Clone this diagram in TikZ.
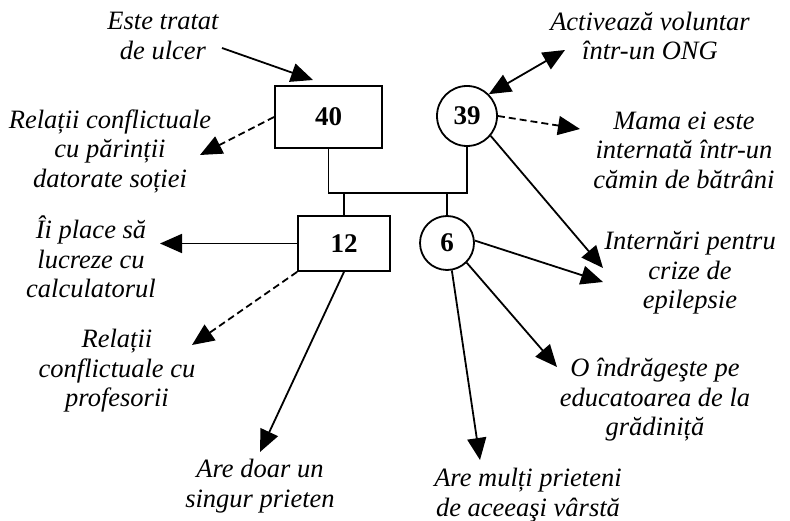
\documentclass[tikz,border=0pt]{standalone}
\usepackage{fontspec}
\setmainfont{Liberation Serif}
\usetikzlibrary{arrows.meta}

\begin{document}
\begin{tikzpicture}[x=1pt,y=-1pt,line width=1.8pt,
  lbl/.style={font=\fontsize{26.5}{29.5}\selectfont\itshape,align=center,inner sep=0pt},
  pbox/.style={draw,rectangle,font=\fontsize{27}{30}\selectfont\bfseries},
  pcirc/.style={draw,circle,inner sep=0pt,font=\fontsize{27}{30}\selectfont\bfseries},
  tip/.tip={Triangle[length=22pt,width=19pt]},
  arr/.style={-tip},
  darr/.style={arr,dash pattern=on 7pt off 4pt}]
\useasboundingbox (0,0) rectangle (790,521);
% persons
\node[pbox,minimum width=107pt,minimum height=62pt] (n40) at (328.5,117) {40};
\node[pcirc,minimum size=60pt] (n39) at (467,116) {39};
\node[pbox,minimum width=92pt,minimum height=55pt] (n12) at (344,243.5) {12};
\node[pcirc,minimum size=54pt] (n6) at (447,243) {6};
% family lines
\coordinate (fam) at (0,193);
\draw (n40.south) |- (fam -| n39.south) -- (n39.south);
\draw (n12.north) -- (n12.north |- fam);
\draw (n6.north) -- (n6.north |- fam);
% texts
\node[lbl] (ulcer) at (163,36) {Este tratat\\de ulcer};
\node[lbl] (parinti) at (110,151) {Relații conflictuale\\cu părinții\\datorate soției};
\node[lbl] (ong) at (650,36) {Activează voluntar\\într-un ONG};
\node[lbl] (mama) at (684,150) {Mama ei este\\internată într-un\\cămin de bătrâni};
\node[lbl] (epil) at (690,273) {Internări pentru\\crize de\\epilepsie};
\node[lbl] (educ) at (655,400) {O îndrăgeşte pe\\educatoarea de la\\grădiniță};
\node[lbl] (multi) at (528,495) {Are mulți prieteni\\de aceeaşi vârstă};
\node[lbl] (calc) at (91,257) {Îi place să\\lucreze cu\\calculatorul};
\node[lbl] (prof) at (117,371) {Relații\\conflictuale cu\\profesorii};
\node[lbl] (singur) at (260,486) {Are doar un\\singur prieten};
% arrow ends
\coordinate (ulcerA) at (222,48);
\coordinate (ulcerB) at (313,80);
\coordinate (parintiT) at (200,155);
\coordinate (ongT) at (565,50);
\coordinate (mamaT) at (580,129);
\coordinate (epilT1) at (603,268);
\coordinate (epilT2) at (603,282);
\coordinate (educT) at (557,367);
\coordinate (multiT) at (480,460);
\coordinate (calcT) at (160,243.5);
\coordinate (profT) at (192,345);
\coordinate (singurT) at (260,452);
% connectors
\draw[arr] (ulcerA) -- (ulcerB);
\draw[darr] (n40.west) -- (parintiT);
\draw[tip-tip] (n39.45) -- (ongT);
\draw[darr] (n39.east) -- (mamaT);
\draw[arr] (n39.-40) -- (epilT1);
\draw[arr] (n6.5) -- (epilT2);
\draw[arr] (n6.-45) -- (educT);
\draw[arr] (n6.-80) -- (multiT);
\draw[arr] (n12.west) -- (calcT);
\draw[darr] (n12.south west) -- (profT);
\draw[arr] (n12.south) -- (singurT);
\end{tikzpicture}
\end{document}
